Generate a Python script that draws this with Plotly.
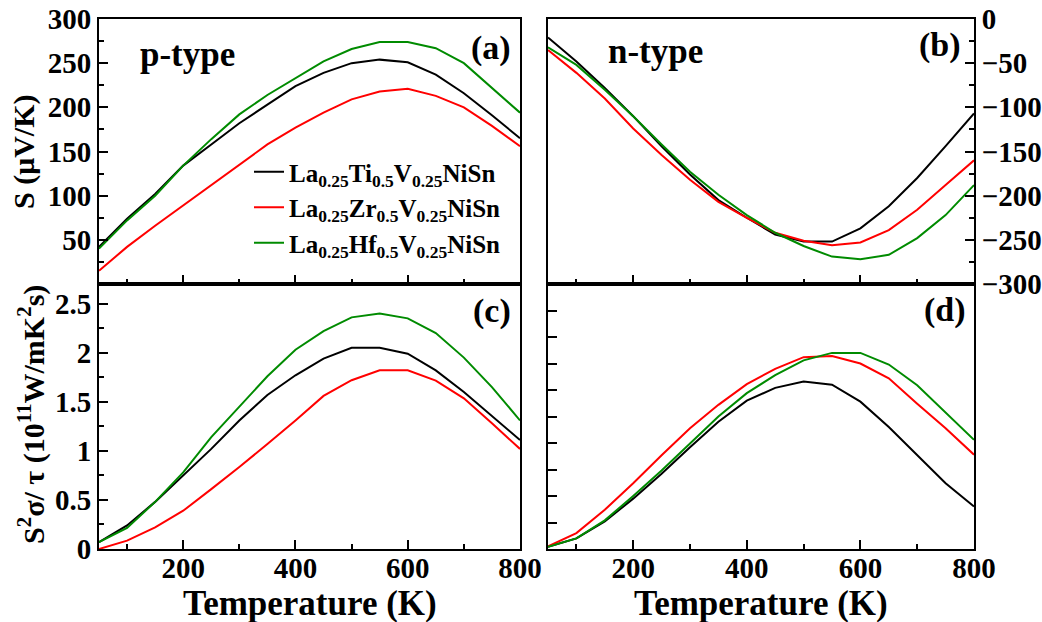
import plotly.graph_objects as go

# ---------------- data ----------------
T = [50, 100, 150, 200, 250, 300, 350, 400, 450, 500, 550, 600, 650, 700, 750, 800]

names = ["La<sub>0.25</sub>Ti<sub>0.5</sub>V<sub>0.25</sub>NiSn",
         "La<sub>0.25</sub>Zr<sub>0.5</sub>V<sub>0.25</sub>NiSn",
         "La<sub>0.25</sub>Hf<sub>0.5</sub>V<sub>0.25</sub>NiSn"]
colors = ["black", "rgb(255,0,0)", "rgb(0,139,0)"]

# (a) p-type Seebeck (uV/K)
Sp_Ti = [42, 74, 102, 134, 158, 182, 203, 224, 239, 250, 254, 251, 237, 216, 191, 165]
Sp_Zr = [15, 42, 66, 89, 111, 134, 158, 177, 194, 209, 218, 221, 213, 200, 179, 156]
Sp_Hf = [40, 72, 100, 134, 164, 192, 214, 233, 252, 266, 274, 274, 267, 250, 222, 194]

# (b) n-type Seebeck (uV/K)
Sn_Ti = [-21, -48, -78, -110, -144, -176, -205, -225, -244, -252, -252, -237, -212, -180, -144, -107]
Sn_Zr = [-35, -61, -90, -124, -154, -182, -207, -225, -242, -251, -256, -253, -239, -216, -188, -160]
Sn_Hf = [-32, -52, -80, -110, -142, -173, -199, -222, -242, -257, -269, -272, -267, -248, -222, -188]

# (c) p-type power factor / tau
PFp_Ti = [0.07, 0.24, 0.48, 0.75, 1.02, 1.31, 1.57, 1.77, 1.94, 2.05, 2.05, 1.99, 1.82, 1.60, 1.36, 1.11]
PFp_Zr = [0.00, 0.085, 0.22, 0.39, 0.61, 0.835, 1.07, 1.31, 1.56, 1.72, 1.82, 1.82, 1.715, 1.535, 1.28, 1.02]
PFp_Hf = [0.07, 0.215, 0.48, 0.78, 1.14, 1.45, 1.76, 2.03, 2.22, 2.36, 2.40, 2.35, 2.20, 1.95, 1.65, 1.31]

# (d) n-type power factor / tau
PFn_Ti = [0.02, 0.10, 0.26, 0.475, 0.71, 0.96, 1.20, 1.40, 1.52, 1.58, 1.55, 1.39, 1.15, 0.885, 0.62, 0.40]
PFn_Zr = [0.025, 0.15, 0.37, 0.62, 0.885, 1.14, 1.36, 1.555, 1.70, 1.81, 1.82, 1.75, 1.61, 1.37, 1.14, 0.89]
PFn_Hf = [0.02, 0.10, 0.27, 0.50, 0.74, 0.995, 1.25, 1.47, 1.64, 1.78, 1.85, 1.85, 1.74, 1.545, 1.29, 1.03]

x_ticks = [200, 400, 600, 800]
ya_ticks = [50, 100, 150, 200, 250, 300]
yb_ticks = [0, -50, -100, -150, -200, -250, -300]
yc_ticks = [0, 0.5, 1, 1.5, 2, 2.5]
yc_text = ["0", "0.5", "1", "1.5", "2", "2.5"]

# ---------------- figure ----------------
FONT = "Liberation Serif"
fig = go.Figure()

panels = [
    ("x", "y", [Sp_Ti, Sp_Zr, Sp_Hf], True),
    ("x2", "y2", [Sn_Ti, Sn_Zr, Sn_Hf], False),
    ("x3", "y3", [PFp_Ti, PFp_Zr, PFp_Hf], False),
    ("x4", "y4", [PFn_Ti, PFn_Zr, PFn_Hf], False),
]
for xa, ya, series, show in panels:
    for i, ys in enumerate(series):
        fig.add_trace(go.Scatter(
            x=T, y=ys, xaxis=xa, yaxis=ya, mode="lines",
            line=dict(color=colors[i], width=2),
            name=names[i], showlegend=show, legendgroup="g%d" % i,
        ))

L, R, TOP, BOT = 99, 68, 19, 73
W, H = 1042, 622
pw, ph = W - L - R, H - TOP - BOT
xl_dom = [0, (520 - L) / pw]
xr_dom = [(548 - L) / pw, 1]
TICKFONT = dict(size=29, family=FONT, color="black", weight="bold")


def xaxis(dom, anchor, labels):
    return dict(domain=dom, anchor=anchor, range=[50, 800], tickvals=x_ticks,
                showticklabels=labels, ticks="inside", ticklen=9, tickwidth=2,
                tickcolor="black", automargin=False, ticklabelstandoff=-8,
                minor=dict(ticks="inside", ticklen=5, tickwidth=2, tickcolor="black",
                           dtick=100, tick0=0),
                showline=True, linewidth=2, linecolor="black", mirror=True,
                showgrid=False, zeroline=False, tickfont=TICKFONT)


def yaxis(dom, anchor, rng, **kw):
    d = dict(domain=dom, anchor=anchor, range=rng, ticks="inside", ticklen=9,
             tickwidth=2, tickcolor="black", automargin=False,
             showline=True, linewidth=2, linecolor="black", mirror=True,
             showgrid=False, zeroline=False, tickfont=TICKFONT)
    d.update(kw)
    return d


def minor(dt):
    return dict(ticks="inside", ticklen=5, tickwidth=2, tickcolor="black",
                dtick=dt, tick0=0)


fig.update_layout(
    width=W, height=H,
    margin=dict(l=L, r=R, t=TOP, b=BOT, autoexpand=False),
    paper_bgcolor="white", plot_bgcolor="white",
    font=dict(family=FONT, color="black", weight="bold"),
    xaxis=xaxis(xl_dom, "y", False),
    xaxis2=xaxis(xr_dom, "y2", False),
    xaxis3=xaxis(xl_dom, "y3", True),
    xaxis4=xaxis(xr_dom, "y4", True),
    yaxis=yaxis([0.5, 1], "x", [0, 300], tickvals=ya_ticks, minor=minor(25),
                ticklabelstandoff=0),
    yaxis2=yaxis([0.5, 1], "x2", [-300, 0], tickvals=yb_ticks, minor=minor(25),
                 side="right", ticklabelstandoff=0),
    yaxis3=yaxis([0, 0.5], "x3", [0, 2.7], tickvals=yc_ticks, ticktext=yc_text,
                 minor=minor(0.25), ticklabelstandoff=0),
    yaxis4=yaxis([0, 0.5], "x4", [0, 2.5], dtick=0.25, tick0=0,
                 showticklabels=False),
    legend=dict(x=(249 - L) / pw, y=(H - BOT - 149) / ph, xanchor="left", yanchor="top",
                bgcolor="rgba(0,0,0,0)", borderwidth=0, tracegroupgap=0,
                font=dict(size=25, family=FONT, color="black", weight="bold")),
    showlegend=True,
)


def px_x(p):
    return (p - L) / pw


def px_y(p):
    return (H - BOT - p) / ph


annots = [
    ("S (μV/K)", 24, 152, 30, -90),
    ("S<sup>2</sup>σ/ τ (10<sup>11</sup>W/mK<sup>2</sup>s)", 31, 415, 30, -90),
    ("Temperature (K)", 309.5, 603, 35, 0),
    ("Temperature (K)", 761, 603, 35, 0),
    ("(a)", 491, 48, 34, 0),
    ("(b)", 940, 45, 34, 0),
    ("(c)", 492, 311, 34, 0),
    ("(d)", 945, 310, 34, 0),
    ("p-type", 187.5, 55, 35, 0),
    ("n-type", 655, 52, 35, 0),
]
for text, ax, ay, size, ang in annots:
    fig.add_annotation(text=text, x=px_x(ax), y=px_y(ay), xref="paper", yref="paper",
                       xanchor="center", yanchor="middle", showarrow=False,
                       textangle=ang,
                       font=dict(size=size, family=FONT, color="black", weight="bold"))

fig.write_html("out.html", config={"displayModeBar": False},
               post_script="document.body.style.margin='0';document.body.style.overflow='hidden';")
